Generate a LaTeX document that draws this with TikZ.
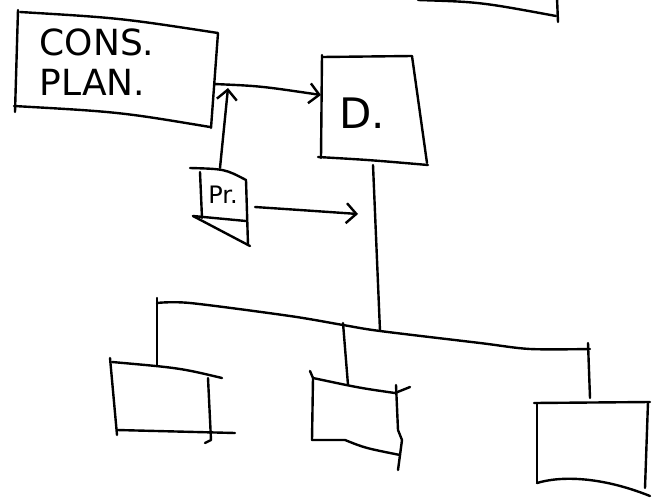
\documentclass[tikz,border=0pt]{standalone}
\usepackage{fontspec}
\setmainfont{DejaVu Sans}
\usetikzlibrary{arrows.meta}
\begin{document}
\begin{tikzpicture}[x=1pt,y=-1pt,
  pen/.style={line width=2.4pt, line cap=round, line join=round},
  arr/.style={pen, -{Straight Barb[length=10pt,width=20pt,line width=2.4pt]}},
  lbl/.style={inner sep=0pt, font=\fontsize{#1}{#1}\selectfont}]
\useasboundingbox (0,0) rectangle (653,498);
% partial box at top
\draw[pen] (418,0) .. controls (480,2) .. (556,16);
\draw[pen] (557,-2) -- (558,22);
% CONS. PLAN. box
\draw[pen] (20,12) .. controls (120,18) .. (218,33) -- (211,128);
\draw[pen] (18,10) -- (15,112);
\draw[pen] (14,106) .. controls (120,112) .. (210,127);
\node[inner sep=0pt, font=\fontsize{36}{40}\selectfont, align=left] (cons) at (97,62) {CONS.\\PLAN.};
\coordinate (consE) at (214,84);
% D box
\draw[pen] (322,57) -- (412,56) -- (427,163);
\draw[pen] (322,55) -- (321,158);
\draw[pen] (318,157) .. controls (370,160) .. (428,165);
\node[lbl=42] (d) at (362,113) {D.};
\coordinate (dW) at (321,95);
\coordinate (dS) at (373,165);
% Pr box
\draw[pen] (190,168) .. controls (225,169) .. (246,180) -- (248,245);
\draw[pen] (200,172) -- (202,218);
\draw[pen] (193,216) -- (246,221);
\draw[pen] (193,216) -- (250,246);
\node[lbl=24] (pr) at (223,195) {Pr.};
\coordinate (prN) at (220,168);
\coordinate (prE) at (255,207);
\coordinate (up) at (228,88);
\coordinate (trunkArr) at (358,214);
% connectors
\draw[arr] (consE) .. controls (260,86) .. (dW);
\draw[arr] (prN) -- (up);
\draw[arr] (prE) .. controls (300,210) .. (trunkArr);
\coordinate (trunkB) at (380,331);
\draw[pen] (dS) -- (trunkB);
% bus
\draw[pen] plot[smooth, tension=0.5] coordinates {(157,303) (190,303) (290,316) (343,325) (380,331) (480,343) (530,349) (590,349)};
\draw[pen] (157,298) -- (157,365);
\draw[pen] (343,323) -- (348,385);
\draw[pen] (588,343) -- (590,398);
% left child box
\draw[pen] (112,362) .. controls (180,368) .. (222,378);
\draw[pen] (110,358) -- (117,435);
\draw[pen] (117,430) -- (235,433);
\draw[pen] (208,378) -- (211,440) -- (205,443);
% middle child box
\draw[pen] (310,371) -- (313,378) -- (312,440);
\draw[pen] (313,378) .. controls (360,388) .. (395,393) -- (410,387);
\draw[pen] (312,440) -- (345,440) .. controls (365,448) .. (400,455);
\draw[pen] (396,385) -- (398,430) -- (402,440) -- (398,470);
% right child box
\draw[pen] (534,403) -- (650,402);
\draw[pen] (537,403) -- (537,483);
\draw[pen] (537,483) .. controls (560,476) and (600,476) .. (650,496);
\draw[pen] (648,402) -- (645,488);
\end{tikzpicture}
\end{document}
